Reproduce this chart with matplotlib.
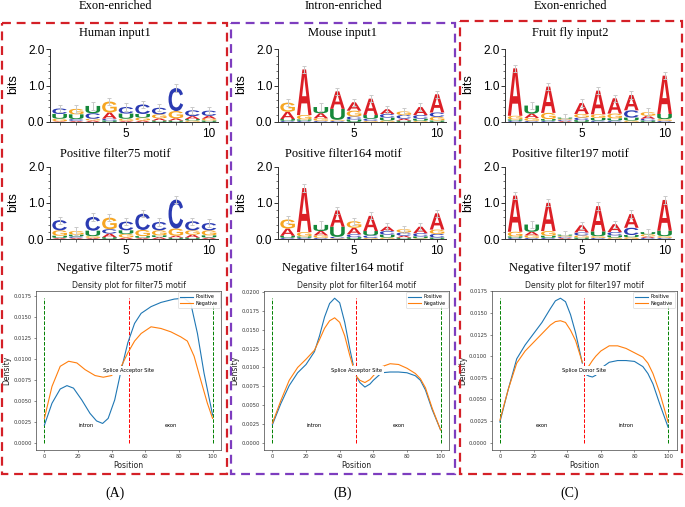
import matplotlib
matplotlib.use('Agg')
import matplotlib.pyplot as plt
from matplotlib.textpath import TextPath
from matplotlib.font_manager import FontProperties
from matplotlib.patches import PathPatch, Rectangle
from matplotlib.transforms import Affine2D, blended_transform_factory
from matplotlib.ticker import MultipleLocator, FormatStrFormatter

W, H = 685, 507

# ---------------- data ----------------
group_titles = ['Exon-enriched', 'Intron-enriched', 'Exon-enriched']
panel_labels = ['(A)', '(B)', '(C)']
logo_titles_top = ['Human input1', 'Mouse input1', 'Fruit fly input2']
logo_titles_mid = ['Positive filter75 motif', 'Positive filter164 motif', 'Positive filter197 motif']
logo_titles_bot = ['Negative filter75 motif', 'Negative filter164 motif', 'Negative filter197 motif']
density_titles = ['Density plot for filter75 motif', 'Density plot for filter164 motif',
                  'Density plot for filter197 motif']
site_labels = ['Splice Acceptor Site', 'Splice Acceptor Site', 'Splice Donor Site']
left_region = ['intron', 'intron', 'exon']
right_region = ['exon', 'exon', 'intron']

letters = ['A', 'C', 'G', 'U']
positions = [1, 2, 3, 4, 5, 6, 7, 8, 9, 10]

# bits per letter (A, C, G, U) at each position
human_pos = {'A': [0.02, 0.03, 0.04, 0.17, 0.03, 0.04, 0.06, 0.06, 0.08, 0.08],
             'C': [0.15, 0.05, 0.15, 0.05, 0.18, 0.26, 0.18, 0.63, 0.16, 0.14],
             'G': [0.07, 0.15, 0.05, 0.30, 0.06, 0.08, 0.11, 0.20, 0.04, 0.05],
             'U': [0.13, 0.13, 0.20, 0.04, 0.14, 0.10, 0.04, 0.04, 0.04, 0.04]}
human_neg = {'A': [0.03, 0.03, 0.03, 0.10, 0.04, 0.03, 0.05, 0.05, 0.08, 0.04],
             'C': [0.28, 0.04, 0.38, 0.12, 0.24, 0.45, 0.23, 0.80, 0.25, 0.20],
             'G': [0.15, 0.10, 0.05, 0.32, 0.10, 0.17, 0.14, 0.20, 0.12, 0.14],
             'U': [0.06, 0.05, 0.15, 0.05, 0.10, 0.05, 0.05, 0.04, 0.04, 0.06]}
mouse_pos = {'A': [0.20, 1.25, 0.14, 0.48, 0.23, 0.45, 0.13, 0.05, 0.22, 0.50],
             'C': [0.03, 0.03, 0.03, 0.03, 0.08, 0.06, 0.10, 0.10, 0.10, 0.12],
             'G': [0.25, 0.12, 0.07, 0.03, 0.16, 0.03, 0.04, 0.10, 0.03, 0.10],
             'U': [0.05, 0.04, 0.17, 0.30, 0.07, 0.10, 0.08, 0.04, 0.06, 0.04]}
mouse_neg = {'A': [0.20, 1.22, 0.12, 0.45, 0.18, 0.42, 0.12, 0.05, 0.18, 0.45],
             'C': [0.03, 0.03, 0.03, 0.04, 0.08, 0.07, 0.10, 0.09, 0.09, 0.10],
             'G': [0.25, 0.12, 0.07, 0.02, 0.18, 0.03, 0.04, 0.09, 0.02, 0.12],
             'U': [0.06, 0.04, 0.17, 0.28, 0.05, 0.12, 0.08, 0.04, 0.05, 0.04]}
fly_pos = {'A': [1.30, 0.12, 0.72, 0.03, 0.30, 0.65, 0.42, 0.42, 0.08, 1.05],
           'C': [0.03, 0.03, 0.03, 0.03, 0.07, 0.04, 0.04, 0.20, 0.05, 0.03],
           'G': [0.10, 0.08, 0.17, 0.03, 0.10, 0.10, 0.13, 0.04, 0.10, 0.05],
           'U': [0.04, 0.22, 0.05, 0.03, 0.05, 0.07, 0.06, 0.08, 0.04, 0.14]}
fly_neg = {'A': [1.00, 0.10, 0.78, 0.03, 0.20, 0.70, 0.22, 0.38, 0.04, 0.85],
           'C': [0.03, 0.03, 0.03, 0.03, 0.08, 0.03, 0.09, 0.20, 0.03, 0.03],
           'G': [0.13, 0.07, 0.13, 0.03, 0.06, 0.05, 0.04, 0.05, 0.06, 0.05],
           'U': [0.04, 0.20, 0.06, 0.03, 0.04, 0.13, 0.06, 0.06, 0.06, 0.15]}

# density curves
densA_xp = [0, 4.5, 9.4, 13.4, 17.3, 22.2, 27.1, 31, 34.6, 37.9, 41.8, 45.7, 49.6, 53.6, 57.5,
            63.4, 69.3, 77.2, 83.1, 87, 91, 94.9, 100]
densA_pos = [0.0021, 0.0047, 0.0064, 0.0068, 0.0065, 0.0051, 0.0035, 0.0026, 0.0023, 0.0029, 0.0051,
             0.0087, 0.0119, 0.0142, 0.0154, 0.0162, 0.0167, 0.0171, 0.0172, 0.0166, 0.0130, 0.0083, 0.0033]
densA_xn = [0, 4.5, 9.4, 14.4, 19.3, 24.2, 30.1, 35, 39.9, 45.7, 49.6, 53.6, 57.5, 63.4, 69.3,
            75.2, 81.1, 85, 89, 92.9, 96.9, 100]
densA_neg = [0.0029, 0.0067, 0.0091, 0.0097, 0.0095, 0.0087, 0.0080, 0.0078, 0.0080, 0.0091, 0.0107,
             0.0121, 0.0130, 0.0138, 0.0136, 0.0132, 0.0126, 0.0121, 0.0103, 0.0075, 0.0047, 0.0029]

densB_xl = [0, 5, 10, 15, 20, 25, 28, 31, 34, 37, 40, 43, 46, 48]
densB_pos_l = [0.0024, 0.0052, 0.0076, 0.0093, 0.0104, 0.0121, 0.0142, 0.0167, 0.0185, 0.0192, 0.0186,
               0.0160, 0.0125, 0.0104]
densB_neg_l = [0.0026, 0.0056, 0.0083, 0.0100, 0.0111, 0.0123, 0.0137, 0.0152, 0.0162, 0.0166, 0.0160,
               0.0142, 0.0116, 0.0101]
densB_xr = [50, 52, 55, 58, 60, 65, 70, 75, 80, 85, 88, 91, 95, 100]
densB_pos_r = [0.0088, 0.0080, 0.0074, 0.0078, 0.0083, 0.0093, 0.0094, 0.0094, 0.0093, 0.0089, 0.0083,
               0.0070, 0.0044, 0.0017]
densB_neg_r = [0.0088, 0.0083, 0.0080, 0.0084, 0.0089, 0.0101, 0.0105, 0.0104, 0.0099, 0.0092, 0.0085,
               0.0073, 0.0046, 0.0017]

densC_xl = [0, 5, 10, 15, 20, 25, 30, 33, 36, 39, 42, 45, 49]
densC_pos_l = [0.0024, 0.0062, 0.0097, 0.0113, 0.0126, 0.0139, 0.0155, 0.0164, 0.0167, 0.0163, 0.0148,
               0.0127, 0.0092]
densC_neg_l = [0.0026, 0.0062, 0.0092, 0.0106, 0.0116, 0.0126, 0.0136, 0.0140, 0.0141, 0.0139, 0.0130,
               0.0118, 0.0093]
densC_xr = [51, 53, 55, 57, 60, 65, 70, 75, 80, 85, 88, 91, 95, 100]
densC_pos_r = [0.0079, 0.0077, 0.0076, 0.0078, 0.0086, 0.0093, 0.0095, 0.0095, 0.0094, 0.0088, 0.0080,
               0.0068, 0.0045, 0.0018]
densC_neg_r = [0.0086, 0.0089, 0.0095, 0.0100, 0.0106, 0.0112, 0.0112, 0.0109, 0.0104, 0.0099, 0.0092,
               0.0080, 0.0058, 0.0024]

# ---------------- style ----------------
letter_colors = {'A': '#dc1f26', 'C': '#2b3bb2', 'G': '#f6a623', 'U': '#16883a'}
box_colors = ['#d42027', '#7d3dbf', '#d42027']
col_offsets = [0, 228, 455.5]
SERIF = 'Liberation Serif'
SANS = 'Liberation Sans'

fig = plt.figure(figsize=(W / 100, H / 100), dpi=100)


def px_rect(l, t, w, h):
    return [l / W, 1 - (t + h) / H, w / W, h / H]


LETTER_FP = FontProperties(family=SANS, weight='bold')
glyphs = {L: TextPath((0, 0), L, size=1, prop=LETTER_FP) for L in letters}


def draw_logo(ax, heights):
    for i, p in enumerate(positions):
        stack = sorted((heights[L][i], L) for L in letters)
        y = 0.0
        for h, L in stack:
            path = glyphs[L]
            ext = path.get_extents()
            tr = (Affine2D().translate(-ext.x0, -ext.y0)
                  .scale(0.88 / ext.width, h / ext.height)
                  .translate(p - 0.44, y))
            ax.add_patch(PathPatch(tr.transform_path(path), fc=letter_colors[L], ec='none', lw=0))
            y += h
        ax.errorbar([p], [y], yerr=0.1, color='#c9c9c9', capsize=1.6, capthick=0.7, lw=0.7, zorder=5)
    ax.set_xlim(0.42, 10.54)
    ax.set_ylim(0, 2.0)
    for s in ['top', 'right']:
        ax.spines[s].set_visible(False)
    for s in ['left', 'bottom']:
        ax.spines[s].set_linewidth(0.7)
        ax.spines[s].set_color('#333333')
    ax.set_yticks([0, 1, 2])
    ax.set_yticklabels(['0.0', '1.0', '2.0'])
    ax.yaxis.set_minor_locator(MultipleLocator(0.2))
    ax.set_xticks([5, 10])
    ax.set_xticks(positions, minor=True)
    ax.tick_params(axis='both', which='major', labelsize=8.5, length=3, width=0.7, pad=1, color='#333333')
    ax.tick_params(axis='both', which='minor', length=1.8, width=0.5, color='#333333')
    ax.tick_params(axis='x', which='major', length=2, pad=2)
    for lab in ax.get_xticklabels() + ax.get_yticklabels():
        lab.set_fontfamily(SANS)


def draw_density(ax, segs_pos, segs_neg, title, site, lreg, rreg, ystep):
    ymax = max(max(max(s[1]) for s in segs_pos), max(max(s[1]) for s in segs_neg))
    ax.plot([0, 0], [0, ymax], '--', color='green', lw=0.7, zorder=2)
    ax.plot([100, 100], [0, ymax], '--', color='green', lw=0.7, zorder=2)
    ax.plot([50, 50], [0, ymax], '--', color='red', lw=0.7, zorder=2)
    for k, (xs, ys) in enumerate(segs_pos):
        ax.plot(xs, ys, color='#1f77b4', lw=0.8, label='Positive' if k == 0 else None, zorder=3)
    for k, (xs, ys) in enumerate(segs_neg):
        ax.plot(xs, ys, color='#ff7f0e', lw=0.8, label='Negative' if k == 0 else None, zorder=3)
    ax.set_xlim(-5, 105)
    ax.set_ylim(-0.05 * ymax, 1.05 * ymax)
    ax.xaxis.set_major_locator(MultipleLocator(20))
    ax.yaxis.set_major_locator(MultipleLocator(ystep))
    ax.yaxis.set_major_formatter(FormatStrFormatter('%.4f'))
    ax.tick_params(labelsize=3.7, length=1.5, width=0.4, pad=1.5, colors='#333333')
    for s in ax.spines.values():
        s.set_linewidth(0.5)
        s.set_color('#444444')
    ax.set_title(title, fontsize=5.6, pad=2.5, color='#222222')
    ax.set_xlabel('Position', fontsize=5.5, labelpad=1.5, color='#222222')
    ax.set_ylabel('Density', fontsize=5.5, labelpad=1.5, color='#222222')
    tr = blended_transform_factory(ax.transData, ax.transAxes)
    ax.text(50, 0.5, site, transform=tr, fontsize=3.7, ha='center', va='center', zorder=6,
            bbox=dict(facecolor='white', edgecolor='none', pad=1.2))
    ax.text(25, 0.157, lreg, transform=tr, fontsize=3.7, ha='center', va='center')
    ax.text(75, 0.157, rreg, transform=tr, fontsize=3.7, ha='center', va='center')
    leg = ax.legend(loc='upper right', fontsize=3.5, handlelength=2.6, borderpad=0.4,
                    labelspacing=0.35, handletextpad=0.6, framealpha=0.9, borderaxespad=0.3)
    leg.get_frame().set_linewidth(0.4)


logos_top = [human_pos, mouse_pos, fly_pos]
logos_bot = [human_neg, mouse_neg, fly_neg]
density_segments = [
    ([(densA_xp, densA_pos)], [(densA_xn, densA_neg)], 0.0025),
    ([(densB_xl, densB_pos_l), (densB_xr, densB_pos_r)], [(densB_xl, densB_neg_l), (densB_xr, densB_neg_r)], 0.0025),
    ([(densC_xl, densC_pos_l), (densC_xr, densC_pos_r)], [(densC_xl, densC_neg_l), (densC_xr, densC_neg_r)], 0.0025),
]

for c in range(3):
    off = col_offsets[c]
    ax1 = fig.add_axes(px_rect(50 + off, 49, 168, 73))
    draw_logo(ax1, logos_top[c])
    ax2 = fig.add_axes(px_rect(50 + off, 166.7, 168, 72.3))
    draw_logo(ax2, logos_bot[c])
    ax3 = fig.add_axes(px_rect(36 + off, 291, 185, 159))
    sp, sn, step = density_segments[c]
    draw_density(ax3, sp, sn, density_titles[c], site_labels[c], left_region[c], right_region[c], step)

# overlay for frame boxes and serif texts
ov = fig.add_axes([0, 0, 1, 1], zorder=10)
ov.set_xlim(0, W)
ov.set_ylim(H, 0)
ov.axis('off')
ov.patch.set_alpha(0)

boxes = [(2, 23, 225, 451), (231, 23, 224, 451), (460, 20.5, 222, 453.5)]
for (bx, by, bw, bh), bc in zip(boxes, box_colors):
    ov.add_patch(Rectangle((bx, by), bw, bh, fill=False, edgecolor=bc, lw=1.6,
                           linestyle=(0, (4, 2.6))))

centers = [115, 343, 570]
for c in range(3):
    off = col_offsets[c]
    ov.text(centers[c], 6, group_titles[c], fontsize=9, family=SERIF, ha='center', va='center')
    ov.text(centers[c], 33, logo_titles_top[c], fontsize=9, family=SERIF, ha='center', va='center')
    ov.text(centers[c], 154, logo_titles_mid[c], fontsize=9, family=SERIF, ha='center', va='center')
    ov.text(centers[c], 268, logo_titles_bot[c], fontsize=9, family=SERIF, ha='center', va='center')
    ov.text(centers[c], 493, panel_labels[c], fontsize=10, family=SERIF, ha='center', va='center')
    ov.text(13 + off, 84, 'bits', fontsize=9, family=SANS, rotation=90, ha='center', va='center')
    ov.text(13 + off, 202, 'bits', fontsize=9, family=SANS, rotation=90, ha='center', va='center')

fig.savefig('out.png', dpi=100)
